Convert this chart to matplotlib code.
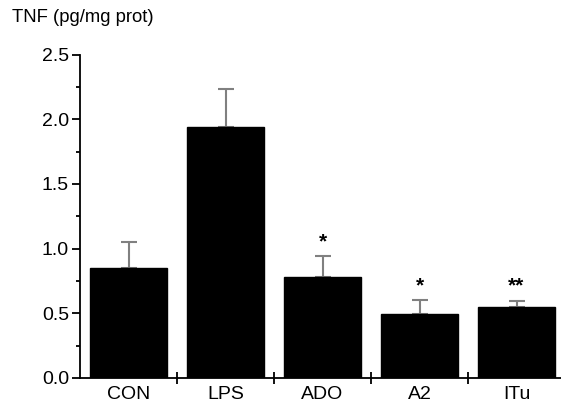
"""
TNF bar chart with error bars
"""

import matplotlib
matplotlib.use("Agg")
import matplotlib.pyplot as plt
import numpy as np

plt.rcParams['font.family'] = ['Liberation Sans', 'DejaVu Sans']

# data
groups = ['CON', 'LPS', 'ADO', 'A2', 'ITu']
tnf = [0.85, 1.94, 0.78, 0.495, 0.545]
sem = [0.20, 0.29, 0.16, 0.105, 0.05]
stars = ['', '', '*', '*', '**']


def main():
    fig = plt.figure(figsize=(5.61, 4.04), dpi=100)
    ax = fig.add_axes([80 / 561, 1 - 378 / 404, 485 / 561, 323.5 / 404])

    x = np.arange(len(groups)) + 0.5
    ax.bar(x, tnf, width=0.8, color='black', edgecolor='black', zorder=2)
    # only the upper half of the error bar
    ax.errorbar(x, tnf, yerr=[np.zeros(len(sem)), sem], fmt='none',
                ecolor='#808080', elinewidth=1.5, capsize=5.5, capthick=1.5, zorder=1)

    for xi, v, e, s in zip(x, tnf, sem, stars):
        if s:
            ax.text(xi, v + e + 0.04, s, ha='center', va='bottom', fontsize=15,
                    fontweight='bold')

    ax.set_xlim(0, 5)
    ax.set_ylim(0, 2.5)
    ax.spines['top'].set_visible(False)
    ax.spines['right'].set_visible(False)
    ax.spines['left'].set_linewidth(1.3)
    ax.spines['bottom'].set_linewidth(1.3)

    ax.set_yticks(np.arange(0, 2.51, 0.5))
    ax.set_yticklabels([f'{v:.1f}' for v in np.arange(0, 2.51, 0.5)])
    ax.set_yticks(np.arange(0.25, 2.5, 0.5), minor=True)
    ax.tick_params(axis='y', which='major', direction='out', length=6, width=1.3,
                   labelsize=14, pad=2)
    ax.tick_params(axis='y', which='minor', direction='out', length=3, width=1.3)

    # boundary ticks between groups, labels at centres
    ax.set_xticks(np.arange(1, 5), minor=True)
    ax.set_xticks(x)
    ax.set_xticklabels(groups)
    ax.tick_params(axis='x', which='major', length=0, labelsize=14, pad=6)
    ax.tick_params(axis='x', which='minor', direction='inout', length=8, width=1.3)

    fig.text(12 / 561, 1 - 18 / 404, 'TNF (pg/mg prot)', fontsize=13.3,
             ha='left', va='center')

    fig.savefig('out.png', dpi=100)


if __name__ == "__main__":
    main()
